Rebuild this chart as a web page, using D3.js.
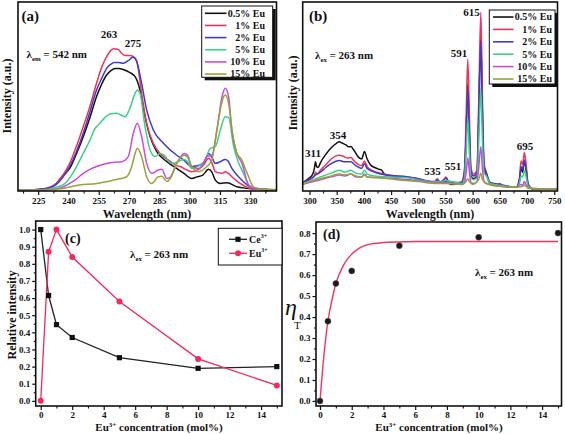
<!DOCTYPE html>
<html><head><meta charset="utf-8">
<script src="https://cdn.jsdelivr.net/npm/d3@7"></script>
<style>
body{margin:0;background:#fff}
svg text{font-family:"Liberation Serif","Times New Roman",serif;font-weight:bold;fill:#111}
</style></head><body>
<svg id="fig" width="565" height="434"></svg>
<script>
// ---------- DATA ----------
const seriesLabels = ["0.5% Eu","1% Eu","2% Eu","5% Eu","10% Eu","15% Eu"];
const seriesColors = ["#111111","#f0325a","#3c3cc8","#3ccf8c","#c84be0","#94a437"];

// (a) excitation spectra, [wavelength nm, intensity a.u.]
const exc05 = [[215,.005],[225,.008],[230,.015],[234,.04],[237,.08],[240.6,.12],[244,.2],[247.3,.289],[250.6,.39],[253.9,.502],[256.5,.57],[258.9,.617],[261,.64],[263,.652],[265,.652],[267.1,.646],[270.4,.63],[273,.608],[275.4,.537],[277.9,.395],[280.4,.289],[283.7,.209],[288.7,.156],[293.6,.12],[297,.095],[301,.067],[303.6,.075],[306.5,.085],[309.4,.115],[311,.1],[312.7,.058],[315.2,.04],[318.5,.044],[323.4,.023],[328.4,.014],[335,.008],[343,.006]];
const exc1 = [[215,.005],[225,.008],[230.7,.02],[234,.04],[237,.08],[240.6,.147],[244,.24],[247.3,.342],[250.6,.45],[253.9,.573],[256.5,.66],[258.9,.715],[261,.748],[262.5,.757],[264.7,.752],[266.5,.73],[268,.72],[270.4,.72],[272.1,.715],[273.8,.69],[276.2,.52],[278.7,.36],[282,.254],[285.3,.2],[287,.183],[290,.16],[293.6,.135],[295.3,.13],[298,.115],[301,.103],[304.4,.115],[307,.14],[309.4,.174],[311,.15],[312.7,.103],[316,.094],[317.6,.103],[319,.095],[320.9,.076],[325,.04],[330,.014],[336,.008],[343,.006]];
const exc2 = [[215,.005],[225,.008],[230,.015],[234,.035],[237,.07],[240.6,.13],[244,.21],[247.3,.307],[250.6,.42],[253.9,.537],[256.5,.6],[258.9,.652],[261,.675],[263,.683],[265,.683],[267.1,.679],[269.6,.693],[271.8,.711],[273,.705],[273.8,.688],[276.2,.573],[278.7,.431],[282,.324],[287,.254],[293.6,.19],[297,.165],[301,.13],[305.2,.138],[307.5,.16],[309.4,.2],[311,.18],[312.7,.147],[315.2,.156],[317.6,.168],[319,.16],[320.9,.12],[325,.067],[330,.023],[336,.01],[343,.006]];
const exc5 = [[215,.005],[225,.006],[230,.01],[233,.018],[237.3,.032],[240.6,.07],[244,.13],[247.3,.2],[250.6,.27],[253,.33],[255.5,.36],[258,.39],[260.5,.41],[263.8,.413],[266,.404],[268,.395],[270.4,.44],[273,.52],[274.1,.537],[275.4,.52],[277.9,.342],[280.4,.218],[282.9,.183],[285.4,.2],[287.5,.19],[290.3,.15],[292,.147],[295,.16],[297.3,.168],[299,.155],[301,.12],[304.4,.133],[307.7,.165],[310.2,.227],[312.7,.236],[315.2,.324],[317.6,.395],[319.3,.39],[321.8,.236],[324.3,.147],[326.7,.094],[329.2,.032],[333,.012],[343,.006]];
const exc10 = [[215,.003],[225,.005],[232,.01],[237,.02],[240.6,.04],[244,.065],[247.3,.094],[250.6,.115],[253.9,.13],[260.5,.15],[266.3,.156],[269.6,.183],[272.1,.307],[274.1,.36],[276.2,.289],[278.7,.147],[281.2,.094],[284.5,.112],[286.2,.115],[288.7,.067],[290.3,.072],[293.6,.147],[297.3,.2],[299,.19],[301,.13],[304.4,.12],[306.5,.14],[308.5,.183],[311,.19],[313.5,.324],[316,.5],[317.6,.546],[319.3,.5],[320.9,.324],[323.4,.2],[325.9,.147],[329.2,.032],[333,.01],[343,.006]];
const exc15 = [[215,.003],[225,.004],[235,.01],[245.6,.032],[254,.04],[262.2,.058],[268.8,.076],[271.3,.13],[273,.2],[274.1,.227],[276.2,.183],[278.7,.076],[281.2,.04],[284.5,.076],[286.2,.078],[288.7,.05],[290.3,.065],[293.6,.147],[297.3,.19],[299,.18],[301,.13],[304.4,.103],[308.5,.13],[311,.165],[313.5,.324],[316,.475],[317.6,.51],[319.3,.466],[320.9,.33],[323.4,.2],[325.9,.165],[327.5,.12],[329.2,.076],[331.5,.023],[335,.01],[343,.006]];

// (b) emission spectra, [wavelength nm, intensity a.u.]
const em05 = [[287.5,.045],[300,.07],[306,.09],[309,.12],[311,.155],[313,.13],[316,.125],[320,.15],[330,.195],[340,.23],[350,.255],[355,.262],[360,.255],[367,.245],[372,.235],[376,.236],[382,.215],[390,.18],[396,.17],[401,.21],[406,.17],[412,.14],[420,.125],[428,.115],[432,.112],[438,.09],[450,.08],[470,.075],[490,.07],[510,.055],[530,.045],[535,.05],[540,.042],[551,.05],[560,.035],[580,.04],[585,.08],[588,.3],[591,.57],[594,.3],[597,.08],[602,.065],[608,.08],[611,.35],[615,.82],[618,.4],[621,.12],[626,.08],[632,.04],[645,.03],[650,.035],[655,.025],[680,.02],[686,.05],[689,.12],[692,.1],[695,.16],[698,.12],[702,.03],[710,.012],[756,.01]];
const em1 = [[287.5,.045],[300,.06],[308,.075],[311,.1],[314,.09],[320,.11],[330,.14],[340,.17],[350,.188],[355,.19],[362,.185],[370,.175],[376,.178],[382,.16],[390,.14],[396,.135],[401,.16],[406,.13],[415,.11],[430,.095],[445,.085],[460,.08],[480,.075],[500,.065],[515,.055],[530,.05],[535,.065],[540,.048],[546,.055],[551,.075],[556,.05],[570,.04],[580,.05],[585,.12],[588,.4],[591,.7],[594,.4],[597,.12],[602,.09],[608,.11],[611,.45],[615,.95],[618,.5],[621,.15],[625,.1],[630,.05],[645,.035],[650,.04],[655,.03],[680,.02],[686,.07],[689,.16],[692,.14],[695,.205],[698,.15],[702,.04],[710,.012],[756,.01]];
const em2 = [[287.5,.045],[300,.06],[311,.085],[320,.1],[330,.125],[340,.145],[350,.16],[355,.162],[365,.155],[376,.155],[385,.135],[396,.12],[401,.145],[406,.12],[420,.1],[440,.085],[460,.08],[480,.075],[500,.065],[530,.048],[535,.06],[540,.045],[551,.068],[556,.048],[580,.045],[585,.1],[588,.3],[591,.545],[594,.3],[597,.1],[602,.08],[608,.1],[611,.4],[615,.8],[618,.4],[621,.13],[626,.09],[632,.045],[650,.035],[680,.02],[686,.06],[689,.13],[692,.115],[695,.165],[698,.12],[702,.035],[710,.012],[756,.01]];
const em5 = [[287.5,.04],[300,.05],[320,.075],[340,.095],[355,.11],[365,.1],[376,.11],[385,.095],[396,.09],[401,.11],[406,.09],[420,.08],[450,.075],[480,.07],[510,.055],[535,.05],[551,.055],[580,.04],[585,.07],[588,.2],[591,.385],[594,.2],[597,.07],[602,.06],[608,.07],[611,.25],[615,.545],[618,.27],[621,.1],[626,.075],[632,.04],[650,.03],[680,.02],[686,.04],[689,.08],[692,.075],[695,.11],[698,.08],[702,.025],[710,.012],[756,.01]];
const em10 = [[287.5,.035],[300,.045],[320,.06],[340,.075],[355,.085],[365,.08],[376,.09],[385,.075],[396,.075],[401,.09],[406,.075],[430,.07],[460,.065],[500,.055],[535,.045],[551,.045],[580,.035],[585,.045],[588,.1],[591,.175],[594,.1],[597,.045],[602,.04],[608,.05],[611,.12],[615,.235],[618,.12],[621,.05],[630,.035],[650,.025],[680,.02],[689,.035],[692,.03],[695,.05],[698,.035],[702,.015],[756,.01]];
const em15 = [[287.5,.035],[300,.05],[320,.065],[340,.08],[355,.09],[365,.085],[376,.09],[385,.08],[396,.075],[401,.085],[406,.075],[430,.07],[460,.06],[500,.05],[535,.04],[551,.04],[580,.035],[588,.05],[591,.065],[594,.05],[600,.035],[611,.06],[615,.094],[618,.06],[625,.04],[650,.025],[680,.02],[692,.025],[695,.032],[698,.025],[702,.015],[756,.01]];

// (c) relative intensity vs Eu concentration
const conc = [0,0.5,1,2,5,10,15];
const ceRel = [1.0,0.615,0.445,0.37,0.252,0.19,0.2];
const euRel = [0.0,0.87,1.0,0.84,0.58,0.245,0.09];
// (d) energy transfer efficiency
const etaT = [0.0,0.38,0.56,0.62,0.74,0.78,0.80];
const fitX = [0,0.25,0.5,0.75,1,1.5,2,2.5,3,4,5,6,8,10,12,15];
const fitY = [0,0.22,0.38,0.48,0.56,0.65,0.70,0.73,0.745,0.755,0.758,0.76,0.76,0.76,0.76,0.76];

// tick values
const ticksA = [225,240,255,270,285,300,315,330];
const minorA = [217.5,232.5,247.5,262.5,277.5,292.5,307.5,322.5,337.5];
const ticksB = [300,350,400,450,500,550,600,650,700,750];
const minorB = [325,375,425,475,525,575,625,675,725];
const ticksConc = [0,2,4,6,8,10,12,14];
const minorConc = [1,3,5,7,9,11,13,15];
const ticksRel = [0,0.1,0.2,0.3,0.4,0.5,0.6,0.7,0.8,0.9,1.0];
const minorRel = [0.05,0.15,0.25,0.35,0.45,0.55,0.65,0.75,0.85,0.95];
const ticksEta = [0,0.1,0.2,0.3,0.4,0.5,0.6,0.7,0.8];
const minorEta = [0.05,0.15,0.25,0.35,0.45,0.55,0.65,0.75];

// ---------- DRAW ----------
const svg = d3.select("#fig");
const excSeries = [exc05,exc1,exc2,exc5,exc10,exc15];
const emSeries = [em05,em1,em2,em5,em10,em15];

const PA = {x0:18,x1:276.5,y0:2,y1:191};
const PB = {x0:302.7,x1:557.5,y0:2,y1:191};
const PC = {x0:35.7,x1:282,y0:221,y1:406};
const PD = {x0:316,x1:561.5,y0:222,y1:406};

function clip(id,P){
  svg.append("clipPath").attr("id",id).append("rect")
    .attr("x",P.x0).attr("y",P.y0).attr("width",P.x1-P.x0).attr("height",P.y1-P.y0);
}
function xAxis(P,x,major,minor,fmt,pad){
  const g = svg.append("g").attr("transform",`translate(0,${P.y1})`)
    .call(d3.axisBottom(x).tickValues(major).tickSize(4).tickPadding(pad).tickFormat(fmt));
  g.attr("font-size",9).attr("font-family",null);
  g.select(".domain").remove();
  g.selectAll("line").attr("stroke","#111").attr("stroke-width",1.2);
  const m = svg.append("g").attr("transform",`translate(0,${P.y1})`)
    .call(d3.axisBottom(x).tickValues(minor).tickSize(2.5).tickFormat(""));
  m.select(".domain").remove();
  m.selectAll("line").attr("stroke","#111").attr("stroke-width",1.1);
}
function yAxis(P,y,major,minor){
  const g = svg.append("g").attr("transform",`translate(${P.x0},0)`)
    .call(d3.axisLeft(y).tickValues(major).tickSize(3.5).tickPadding(2).tickFormat(d3.format(".1f")));
  g.attr("font-size",9).attr("font-family",null);
  g.select(".domain").remove();
  g.selectAll("line").attr("stroke","#111").attr("stroke-width",1.2);
  const m = svg.append("g").attr("transform",`translate(${P.x0},0)`)
    .call(d3.axisLeft(y).tickValues(minor).tickSize(2).tickFormat(""));
  m.select(".domain").remove();
  m.selectAll("line").attr("stroke","#111").attr("stroke-width",1.1);
}
function frame(P){
  svg.append("rect").attr("x",P.x0).attr("y",P.y0).attr("width",P.x1-P.x0).attr("height",P.y1-P.y0)
    .attr("fill","none").attr("stroke","#111").attr("stroke-width",1.6);
}
function txt(x,y,s,size,anchor){
  return svg.append("text").attr("x",x).attr("y",y).attr("font-size",size)
    .attr("text-anchor",anchor||"start").text(s);
}
function lambdaText(x,y,sub,rest,size){
  const t = svg.append("text").attr("x",x).attr("y",y).attr("font-size",size);
  t.append("tspan").text("λ");
  t.append("tspan").attr("font-size",size*0.62).attr("dy",size*0.28).text(sub);
  t.append("tspan").attr("dy",-size*0.28).text(" = "+rest);
}
function ytitle(cx,cy,s,size){
  svg.append("text").attr("transform",`translate(${cx},${cy}) rotate(-90)`)
    .attr("text-anchor","middle").attr("font-size",size).text(s);
}
function legendBox(x,y,w,h){
  svg.append("rect").attr("x",x+3).attr("y",y+3).attr("width",w).attr("height",h).attr("fill","#111");
  svg.append("rect").attr("x",x).attr("y",y).attr("width",w).attr("height",h)
    .attr("fill","#fff").attr("stroke","#111").attr("stroke-width",1);
}

// ---- Panel (a)
const xa = d3.scaleLinear().domain([215,343]).range([PA.x0,PA.x1]);
const ya = d3.scaleLinear().domain([0,1.005]).range([PA.y1,PA.y0]);
clip("cla",PA);
const lineA = d3.line().x(d=>xa(d[0])).y(d=>ya(d[1])).curve(d3.curveMonotoneX);
svg.append("g").attr("clip-path","url(#cla)").selectAll("path").data(excSeries).join("path")
  .attr("d",lineA).attr("fill","none").attr("stroke",(d,i)=>seriesColors[i]).attr("stroke-width",1.5);
xAxis(PA,xa,ticksA,minorA,d3.format("d"),2.5);
frame(PA);
legendBox(201.7,6,71,71.3);
seriesLabels.forEach((s,i)=>{
  const yy = 13.3 + i*12.15;
  svg.append("line").attr("x1",205).attr("x2",226.5).attr("y1",yy).attr("y2",yy)
    .attr("stroke",seriesColors[i]).attr("stroke-width",1.6);
  txt(265,yy+3.4,s,10,"end");
});
txt(21.5,20.5,"(a)",15);
txt(109,37.5,"263",11,"middle");
txt(133,47,"275",11,"middle");
lambdaText(26.5,57.5,"em","542 nm",11);
ytitle(10.5,96,"Intensity (a.u.)",12);
txt(147,218,"Wavelength (nm)",12,"middle");

// ---- Panel (b)
const xb = d3.scaleLinear().domain([287.5,756]).range([PB.x0,PB.x1]);
const yb = d3.scaleLinear().domain([0,1.005]).range([PB.y1,PB.y0]);
clip("clb",PB);
const lineB = d3.line().x(d=>xb(d[0])).y(d=>yb(d[1])).curve(d3.curveMonotoneX);
svg.append("g").attr("clip-path","url(#clb)").selectAll("path").data(emSeries).join("path")
  .attr("d",lineB).attr("fill","none").attr("stroke",(d,i)=>seriesColors[i]).attr("stroke-width",1.5);
xAxis(PB,xb,ticksB,minorB,d3.format("d"),2.5);
frame(PB);
legendBox(489.3,10,65.7,74);
seriesLabels.forEach((s,i)=>{
  const yy = 17 + i*12.4;
  svg.append("line").attr("x1",493).attr("x2",513.5).attr("y1",yy).attr("y2",yy)
    .attr("stroke",seriesColors[i]).attr("stroke-width",1.6);
  txt(552,yy+3.4,s,10,"end");
});
txt(309,20.5,"(b)",15);
lambdaText(315,59,"ex","263 nm",11);
txt(471.5,15.5,"615",11,"middle");
txt(459,57,"591",11,"middle");
txt(338,139,"354",11,"middle");
txt(313,157,"311",11,"middle");
txt(432.5,175,"535",11,"middle");
txt(453,169.5,"551",11,"middle");
txt(525,149.5,"695",11,"middle");
ytitle(296.5,93,"Intensity (a.u.)",12);
txt(430,218,"Wavelength (nm)",12,"middle");

// ---- Panel (c)
const xc = d3.scaleLinear().domain([-0.32,15.33]).range([PC.x0,PC.x1]);
const yc = d3.scaleLinear().domain([-0.03,1.05]).range([PC.y1,PC.y0]);
const ceData = conc.map((c,i)=>[c,ceRel[i]]);
const euData = conc.map((c,i)=>[c,euRel[i]]);
const lineC = d3.line().x(d=>xc(d[0])).y(d=>yc(d[1]));
svg.append("path").attr("d",lineC(ceData)).attr("fill","none").attr("stroke","#222").attr("stroke-width",1.3);
svg.append("path").attr("d",lineC(euData)).attr("fill","none").attr("stroke","#f5285a").attr("stroke-width",1.3);
svg.selectAll(".sq").data(ceData).join("rect").attr("class","sq")
  .attr("x",d=>xc(d[0])-2.6).attr("y",d=>yc(d[1])-2.6).attr("width",5.2).attr("height",5.2).attr("fill","#111");
svg.selectAll(".ci").data(euData).join("circle").attr("class","ci")
  .attr("cx",d=>xc(d[0])).attr("cy",d=>yc(d[1])).attr("r",3).attr("fill","#f5285a");
xAxis(PC,xc,ticksConc,minorConc,d3.format("d"),2);
yAxis(PC,yc,ticksRel,minorRel);
frame(PC);
svg.append("rect").attr("x",218.3).attr("y",228.3).attr("width",PC.x1-218.3).attr("height",36.7)
  .attr("fill","#fff").attr("stroke","#111").attr("stroke-width",1);
[["Ce","#222","sq"],["Eu","#f5285a","ci"]].forEach((e,i)=>{
  const yy = 239.3 + i*14;
  svg.append("line").attr("x1",229).attr("x2",247).attr("y1",yy).attr("y2",yy).attr("stroke",e[1]).attr("stroke-width",1.3);
  if(e[2]==="sq") svg.append("rect").attr("x",235.4).attr("y",yy-2.6).attr("width",5.2).attr("height",5.2).attr("fill","#111");
  else svg.append("circle").attr("cx",238).attr("cy",yy).attr("r",3).attr("fill",e[1]);
  const t = svg.append("text").attr("x",249).attr("y",yy+3.5).attr("font-size",10);
  t.append("tspan").text(e[0]);
  t.append("tspan").attr("font-size",6).attr("dy",-4.5).text("3+");
});
txt(65,243,"(c)",14);
lambdaText(130,257.5,"ex","263 nm",11);
ytitle(15.5,315,"Relative intensity",12);
{
  const t = svg.append("text").attr("x",159).attr("y",431).attr("font-size",11).attr("text-anchor","middle");
  t.append("tspan").text("Eu");
  t.append("tspan").attr("font-size",7).attr("dy",-4.5).text("3+");
  t.append("tspan").attr("dy",4.5).text(" concentration (mol%)");
}

// ---- Panel (d)
const xd = d3.scaleLinear().domain([-0.252,15.22]).range([PD.x0,PD.x1]);
const yd = d3.scaleLinear().domain([-0.024,0.853]).range([PD.y1,PD.y0]);
const fitData = fitX.map((v,i)=>[v,fitY[i]]);
svg.append("path").attr("d",d3.line().x(d=>xd(d[0])).y(d=>yd(d[1])).curve(d3.curveMonotoneX)(fitData))
  .attr("fill","none").attr("stroke","#f5325f").attr("stroke-width",1.4);
svg.selectAll(".et").data(conc.map((c,i)=>[c,etaT[i]])).join("circle").attr("class","et")
  .attr("cx",d=>xd(d[0])).attr("cy",d=>yd(d[1])).attr("r",3).attr("fill","#1a1a1a").attr("stroke","#555").attr("stroke-width",0.6);
xAxis(PD,xd,ticksConc,minorConc,d3.format("d"),2);
yAxis(PD,yd,ticksEta,minorEta);
frame(PD);
txt(323,238.5,"(d)",14);
lambdaText(475,276,"ex","263 nm",11);
{
  const t = svg.append("text").attr("x",285).attr("y",315).attr("font-size",24)
    .attr("font-style","italic").style("font-weight","normal");
  t.append("tspan").text("η");
  t.append("tspan").attr("font-size",11).attr("font-style","normal").attr("dy",14).attr("dx",-3).text("T");
}
{
  const t = svg.append("text").attr("x",439).attr("y",431).attr("font-size",11).attr("text-anchor","middle");
  t.append("tspan").text("Eu");
  t.append("tspan").attr("font-size",7).attr("dy",-4.5).text("3+");
  t.append("tspan").attr("dy",4.5).text(" concentration (mol%)");
}
</script>
</body></html>
